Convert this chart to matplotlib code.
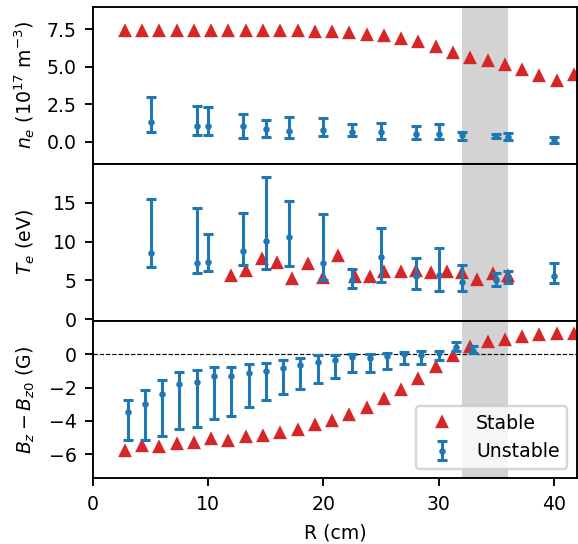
import numpy as np
import matplotlib
matplotlib.use("Agg")
from matplotlib import pyplot as plt

plt.rcParams['font.size'] = 8

# stable shots (ne and Bz share the same radial grid)
r_stable = [2.75, 4.25, 5.75, 7.25, 8.75, 10.25, 11.75, 13.25, 14.75, 16.25, 17.75, 19.25, 20.75,
            22.25, 23.75, 25.25, 26.75, 28.25, 29.75, 31.25, 32.75, 34.25, 35.75, 37.25, 38.75,
            40.25, 41.75]
ne_stable = [7.40, 7.40, 7.40, 7.40, 7.40, 7.40, 7.39, 7.38, 7.37, 7.36, 7.35, 7.33, 7.28,
             7.21, 7.14, 7.03, 6.83, 6.61, 6.28, 5.94, 5.59, 5.37, 5.12, 4.79, 4.36, 4.07, 4.43]
bz_stable = [-5.80, -5.54, -5.60, -5.40, -5.36, -5.12, -5.24, -5.00, -4.90, -4.76, -4.56, -4.24,
             -4.00, -3.64, -3.24, -2.70, -2.14, -1.50, -0.78, -0.08, 0.46, 0.72, 0.86, 1.06, 1.18,
             1.24, 1.20]

r_te_stable = [12.0, 13.3, 14.7, 16.0, 17.3, 18.7, 20.0, 21.3, 22.7, 24.0, 25.3, 26.7, 28.0,
               29.3, 30.7, 32.0, 33.3, 34.7, 36.0]
te_stable = [5.6, 6.2, 7.74, 7.23, 5.22, 7.14, 5.30, 8.12, 5.43, 5.43, 6.07, 6.12, 6.24, 5.94,
             6.07, 5.94, 5.09, 5.82, 5.56]

# unstable shots: value, lower bar end, upper bar end
r_unstable = [5, 9, 10, 13, 15, 17, 20, 22.5, 25, 28, 30, 32, 35, 36, 40]
ne_unstable = [1.34, 1.09, 1.09, 1.05, 0.89, 0.74, 0.78, 0.67, 0.63, 0.51, 0.56, 0.45, 0.40, 0.34, 0.11]
ne_lo = [0.65, 0.45, 0.47, 0.25, 0.34, 0.27, 0.38, 0.38, 0.22, 0.18, 0.20, 0.16, 0.25, 0.11, -0.04]
ne_hi = [2.96, 2.38, 2.34, 1.85, 1.49, 1.65, 1.60, 1.18, 1.27, 1.05, 1.20, 0.67, 0.54, 0.58, 0.34]

te_unstable = [8.59, 7.23, 7.40, 8.77, 10.13, 10.65, 7.23, 5.09, 8.04, 5.52, 5.65, 4.79, 5.00, 5.43, 5.60]
te_lo = [6.67, 5.90, 6.24, 7.01, 6.50, 6.80, 5.00, 4.02, 4.79, 3.89, 3.68, 3.64, 4.32, 4.66, 4.71]
te_hi = [15.43, 14.28, 10.99, 13.68, 18.34, 15.18, 13.59, 6.46, 11.76, 7.87, 9.19, 7.01, 5.94, 6.24, 7.27]

r_bz_unstable = [3.0, 4.5, 6.0, 7.5, 9.0, 10.5, 12.0, 13.5, 15.0, 16.5, 18.0, 19.5, 21.0, 22.5,
                 24.0, 25.5, 27.0, 28.5, 30.0, 31.5, 33.0]
bz_unstable = [-3.50, -3.00, -2.40, -1.80, -1.64, -1.30, -1.30, -1.14, -0.98, -0.80, -0.62, -0.44,
               -0.34, -0.18, -0.22, -0.10, 0.00, -0.02, 0.06, 0.46, 0.20]
bz_lo = [-5.14, -5.14, -4.94, -4.48, -4.38, -3.90, -3.74, -3.20, -2.74, -2.38, -2.10, -1.70, -1.40,
         -1.04, -1.04, -0.86, -0.60, -0.56, -0.34, 0.18, 0.06]
bz_hi = [-2.78, -2.16, -1.54, -1.08, -0.94, -0.76, -0.76, -0.58, -0.54, -0.32, -0.20, -0.06, -0.06,
         0.04, 0.04, 0.08, 0.16, 0.20, 0.22, 0.76, 0.50]

shade = (32, 36)


def yerr(val, lo, hi):
    val = np.array(val)
    return [val - np.array(lo), np.array(hi) - val]


fig, axs = plt.subplots(3, 1, sharex=True, figsize=(3.4, 3.2), dpi=170)
fig.subplots_adjust(left=0.161, right=0.998, top=0.988, bottom=0.121, hspace=0)

ebkw = dict(fmt='.', color='tab:blue', ms=3.5, capsize=2.3, lw=1.3, capthick=1.3)
tkw = dict(marker='^', ls='none', color='tab:red', ms=4)

ax = axs[0]
ax.axvspan(*shade, color='lightgray', lw=0)
ax.plot(r_stable, ne_stable, **tkw)
ax.errorbar(r_unstable, ne_unstable, yerr=yerr(ne_unstable, ne_lo, ne_hi), **ebkw)
ax.set_ylim(-1.45, 9)
ax.set_yticks([0, 2.5, 5, 7.5])
ax.set_ylabel(r'$n_e$ ($10^{17}$ m$^{-3}$)')

ax = axs[1]
ax.axvspan(*shade, color='lightgray', lw=0)
ax.plot(r_te_stable, te_stable, **tkw)
ax.errorbar(r_unstable, te_unstable, yerr=yerr(te_unstable, te_lo, te_hi), **ebkw)
ax.set_ylim(-0.2, 20)
ax.set_yticks([0, 5, 10, 15])
ax.set_ylabel(r'$T_e$ (eV)')

ax = axs[2]
ax.axvspan(*shade, color='lightgray', lw=0)
ax.axhline(0, color='k', ls='--', lw=0.5)
ax.plot(r_stable, bz_stable, label='Stable', **tkw)
ax.errorbar(r_bz_unstable, bz_unstable, yerr=yerr(bz_unstable, bz_lo, bz_hi), label='Unstable', **ebkw)
ax.set_ylim(-7.45, 2)
ax.set_yticks([-6, -4, -2, 0])
ax.set_ylabel(r'$B_z - B_{z0}$ (G)')
ax.legend(loc='lower right')

ax.set_xlim(0, 42)
ax.set_xticks([0, 10, 20, 30, 40])
ax.set_xlabel('R (cm)')
fig.align_ylabels(axs)

fig.savefig('out.png', dpi=170)
